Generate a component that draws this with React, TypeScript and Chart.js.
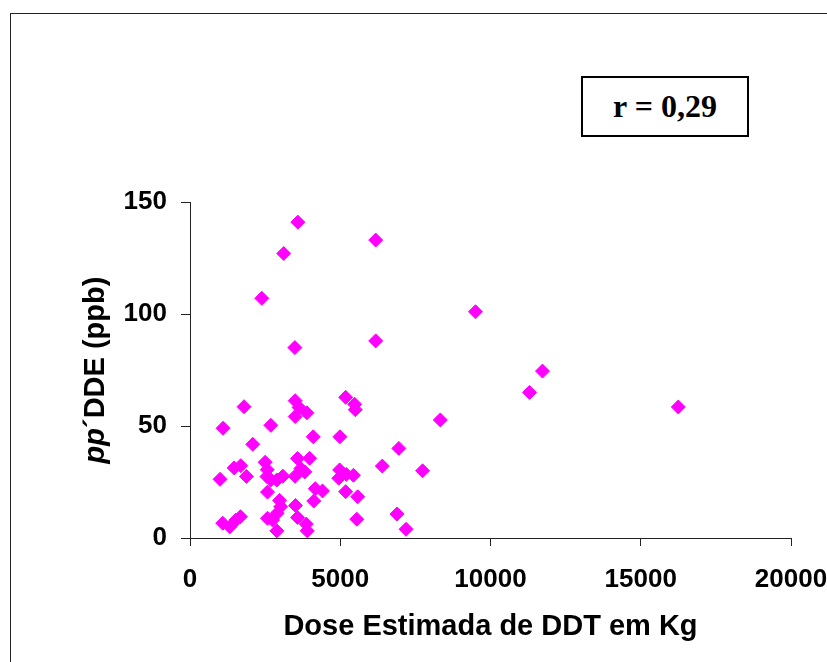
import React, { useEffect, useRef } from 'react';
import { Chart, registerables } from 'chart.js';

Chart.register(...registerables);

// ---- data ----
const doseKg = [
  3590, 6180, 3120, 2390, 9500, 6180, 3490, 11730, 11300, 16250,
  1800, 3500, 3630, 3890, 3500, 5180, 5480, 5500, 8330, 1100,
  2690, 4100, 4990, 2090, 6950, 6400, 7740, 1000, 1470, 1690,
  1880, 2500, 2570, 2560, 2690, 2890, 3090, 3500, 3580, 3690,
  3820, 3980, 4980, 4950, 5200, 5440, 2580, 2980, 3020, 2900,
  2580, 2750, 2890, 3510, 3580, 3870, 3900, 4120, 4170, 4410,
  5180, 5580, 5550, 6890, 7190, 1090, 1330, 1530, 1680,
];
const ddePpb = [
  141, 133, 127, 107, 101, 88, 85, 74.5, 65, 58.5,
  58.6, 61.3, 58.3, 55.9, 54.2, 62.8, 59.7, 57.3, 52.7, 49,
  50.3, 45.2, 45.2, 41.8, 40, 32.1, 30, 26.2, 31.3, 32.3,
  27.5, 33.8, 30.5, 27.4, 25.9, 25.9, 27.6, 27.6, 35.5, 31,
  29.5, 35.6, 30.4, 26.7, 28.4, 28, 20.5, 16.8, 14, 11,
  8.8, 8, 3.2, 14.5, 9.2, 6.2, 3.2, 16.5, 22, 21,
  20.7, 18.4, 8.4, 10.7, 3.9, 6.6, 5, 8, 9.5,
];
const xTicks = [0, 5000, 10000, 15000, 20000];
const yTicks = [0, 50, 100, 150];
const xTitle = 'Dose Estimada de DDT em Kg';
const yTitleItalic = 'pp';
const yTitleRest = '´DDE (ppb)';
const rLabel = 'r = 0,29';

const SANS = '"Liberation Sans", Arial, Helvetica, sans-serif';
const SERIF = '"Liberation Serif", "Times New Roman", Times, serif';

const yTitlePlugin = {
  id: 'yTitleMixed',
  afterDraw(chart: any) {
    const { ctx, chartArea } = chart;
    const cy = (chartArea.top + chartArea.bottom) / 2;
    ctx.save();
    ctx.translate(96, cy);
    ctx.rotate(-Math.PI / 2);
    const fi = `italic bold 29px ${SANS}`;
    const fn = `bold 29px ${SANS}`;
    ctx.font = fi;
    const w1 = ctx.measureText(yTitleItalic).width;
    ctx.font = fn;
    const w2 = ctx.measureText(yTitleRest).width;
    const x0 = -(w1 + w2) / 2;
    ctx.fillStyle = '#000';
    ctx.textAlign = 'left';
    ctx.textBaseline = 'middle';
    ctx.font = fi;
    ctx.fillText(yTitleItalic, x0, 0);
    ctx.font = fn;
    ctx.fillText(yTitleRest, x0 + w1, 0);
    ctx.restore();
  },
};

export default function App() {
  const canvasRef = useRef<HTMLCanvasElement | null>(null);

  useEffect(() => {
    const canvas = canvasRef.current;
    if (!canvas) return;
    const points = doseKg.map((x, i) => ({ x, y: ddePpb[i] }));
    const chart = new Chart(canvas, {
      type: 'scatter',
      data: {
        datasets: [
          {
            data: points,
            pointStyle: 'rectRot',
            pointRadius: 7,
            pointHoverRadius: 7,
            backgroundColor: '#FF00FF',
            borderColor: '#FF00FF',
            borderWidth: 1,
          },
        ],
      },
      options: {
        animation: false,
        responsive: false,
        devicePixelRatio: 1,
        layout: { padding: { left: 0, top: 202, right: 69, bottom: 18 } },
        plugins: { legend: { display: false }, tooltip: { enabled: false } },
        scales: {
          x: {
            type: 'linear',
            min: 0,
            max: 20000,
            afterBuildTicks: (s: any) => {
              s.ticks = xTicks.map((v) => ({ value: v }));
            },
            afterFit: (s: any) => {
              s.height = 106;
            },
            grid: { display: true, drawOnChartArea: false, drawTicks: true, tickLength: 8, color: '#222', lineWidth: 1 },
            border: { display: true, color: '#222', width: 1 },
            ticks: {
              color: '#000',
              font: { family: SANS, size: 26, weight: 'bold' },
              padding: 18,
              maxRotation: 0,
              autoSkip: false,
              callback: (v: any) => String(v),
            },
            title: {
              display: true,
              text: xTitle,
              color: '#000',
              font: { family: SANS, size: 29, weight: 'bold' },
              padding: { top: 0, bottom: 0 },
            },
          },
          y: {
            type: 'linear',
            min: 0,
            max: 150,
            afterBuildTicks: (s: any) => {
              s.ticks = yTicks.map((v) => ({ value: v }));
            },
            afterFit: (s: any) => {
              s.width = 190;
            },
            grid: { display: true, drawOnChartArea: false, drawTicks: true, tickLength: 9, color: '#222', lineWidth: 1 },
            border: { display: true, color: '#222', width: 1 },
            ticks: {
              color: '#000',
              font: { family: SANS, size: 26, weight: 'bold' },
              padding: 14,
              autoSkip: false,
              callback: (v: any) => String(v),
            },
            title: { display: false },
          },
        },
      },
      plugins: [yTitlePlugin],
    } as any);
    return () => chart.destroy();
  }, []);

  return (
    <div
      style={{
        position: 'fixed',
        left: 0,
        top: 0,
        width: 827,
        height: 662,
        overflow: 'hidden',
        background: '#fff',
      }}
    >
      <div
        style={{
          position: 'absolute',
          left: 10,
          top: 13,
          width: 900,
          height: 760,
          border: '1px solid #222',
          boxSizing: 'border-box',
        }}
      />
      <canvas
        ref={canvasRef}
        width={860}
        height={662}
        style={{ position: 'absolute', left: 0, top: 0, width: 860, height: 662 }}
      />
      <div
        style={{
          position: 'absolute',
          left: 581,
          top: 76,
          width: 168,
          height: 61,
          border: '2px solid #000',
          boxSizing: 'border-box',
          display: 'flex',
          alignItems: 'center',
          justifyContent: 'center',
          fontFamily: SERIF,
          fontWeight: 'bold',
          fontSize: 32,
          color: '#000',
          background: '#fff',
        }}
      >
        {rLabel}
      </div>
    </div>
  );
}
